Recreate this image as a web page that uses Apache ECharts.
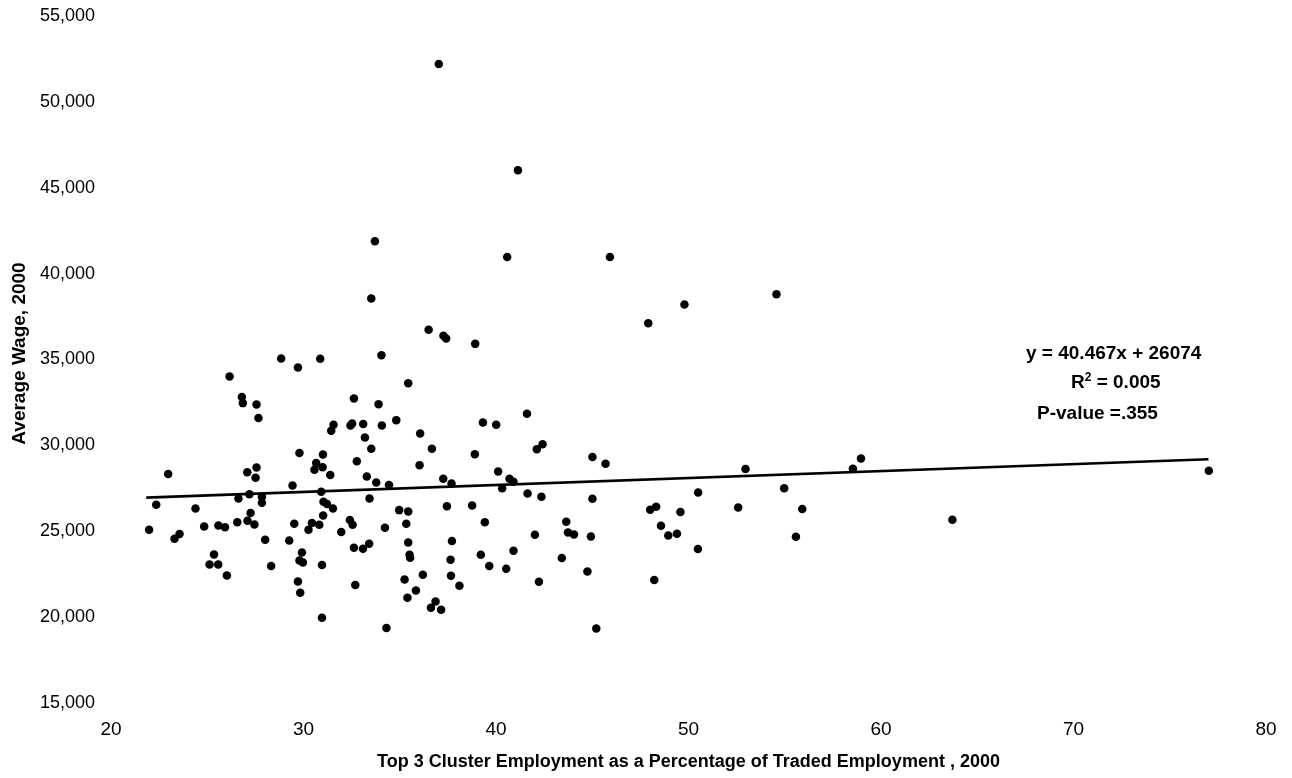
<!DOCTYPE html>
<html>
<head>
<meta charset="utf-8">
<script src="https://cdn.jsdelivr.net/npm/echarts@6/dist/echarts.min.js"></script>
<style>
html,body{margin:0;padding:0;background:#fff;}
#chart{width:1292px;height:778px;}
</style>
</head>
<body>
<div id="chart"></div>
<script>
// Top 3 cluster employment as % of traded employment, 2000
const clusterPct = [
  28.84,29.71,30.87,26.16,26.80,26.85,27.56,27.66,29.79,30.66,30.57,22.97,27.56,27.08,27.51,29.43,
  22.35,24.39,26.62,27.19,27.84,27.84,27.25,27.09,27.45,26.56,24.84,25.58,25.92,21.98,23.56,23.30,
  29.52,30.44,30.82,30.26,28.01,29.26,25.35,25.12,25.57,26.02,29.92,29.79,29.97,28.32,29.71,29.83,
  36.50,37.27,37.41,34.05,35.44,32.62,33.90,31.56,31.44,32.44,32.53,33.10,34.07,34.82,33.19,33.52,
  36.06,36.67,31.01,32.77,36.03,30.99,31.39,33.29,33.78,34.44,37.26,37.69,30.92,33.43,31.04,31.22,
  31.53,31.02,34.97,35.44,37.45,35.34,32.41,32.55,34.23,31.96,35.44,37.71,32.62,33.09,33.41,35.51,
  35.54,37.64,30.96,32.69,35.25,36.20,37.66,38.10,35.84,35.40,36.86,36.62,37.15,30.96,34.31,
  38.92,47.91,41.61,39.32,40.01,42.42,42.12,38.90,45.01,45.69,40.11,40.70,40.91,40.32,41.64,42.36,
  45.01,38.76,48.01,39.42,43.65,43.74,44.05,42.02,44.93,40.91,39.21,43.42,39.65,40.53,44.75,42.23,45.21,
  37.03,41.14,33.71,40.58,45.92,33.52,
  49.79,54.57,58.96,58.54,52.96,50.50,54.97,48.32,49.58,52.58,55.91,48.57,48.95,49.40,50.49,55.58,48.22,
  63.71,77.03
];
// Average wage, 2000
const avgWage = [
  35060,34530,35040,34010,32810,32460,32380,31600,29550,28970,28580,28340,28710,28440,28110,27660,
  26540,26330,26910,27160,27010,26660,26060,25610,25390,25530,25280,25340,25240,25090,24840,24560,
  25430,25480,25380,25090,24500,24460,23650,23070,23070,22430,23760,23300,23180,22970,22080,21420,
  36730,36380,36220,35250,33620,32730,32400,31200,30850,31160,31280,31240,31160,31470,30460,29800,
  30690,29800,29470,29080,28850,28730,28270,28190,27840,27690,28050,27780,27300,26910,26720,26580,
  26330,25920,26230,26150,26460,25430,25650,25380,25200,24950,24350,24430,24040,23980,24270,23630,
  23460,23340,23030,21870,22190,22470,22410,21830,21550,21130,20910,20550,20430,19960,19360,
  35910,37110,31840,31330,31200,30070,29780,29490,29320,28930,28480,28050,27880,27510,27200,27010,
  26890,26500,26250,25530,25550,24930,24810,24790,24700,23860,23630,23440,22970,22820,22660,22060,19340,
  52200,46020,41890,40970,40970,38550,
  38200,38800,29240,28640,28620,27260,27510,26420,26120,26380,26290,25320,24750,24850,23960,24680,22160,
  25670,28520
];
// Trend line end points
const trendX = [21.83, 77.01];
const trendY = [26960, 29190];

const xTicks = {min: 20, max: 80, interval: 10};
const yTicks = {min: 15000, max: 55000, interval: 5000};

const eqLines = ['y = 40.467x + 26074', 'R', '2', ' = 0.005', 'P-value =.355'];

const FONT = '"Liberation Sans", Arial, sans-serif';

const chart = echarts.init(document.getElementById('chart'), null, {renderer: 'canvas'});
chart.setOption({
  animation: false,
  backgroundColor: '#ffffff',
  grid: {left: 111, right: 26, top: 16, bottom: 75},
  xAxis: {
    type: 'value',
    min: xTicks.min, max: xTicks.max, interval: xTicks.interval,
    axisLine: {show: false}, axisTick: {show: false}, splitLine: {show: false},
    axisLabel: {color: '#000', fontFamily: FONT, fontSize: 19, margin: 17},
    name: 'Top 3 Cluster Employment as a Percentage of Traded Employment , 2000',
    nameLocation: 'middle', nameGap: 50,
    nameTextStyle: {color: '#000', fontFamily: FONT, fontSize: 18, fontWeight: 'bold'}
  },
  yAxis: {
    type: 'value',
    min: yTicks.min, max: yTicks.max, interval: yTicks.interval,
    axisLine: {show: false}, axisTick: {show: false}, splitLine: {show: false},
    axisLabel: {
      color: '#000', fontFamily: FONT, fontSize: 18, margin: 16,
      formatter: v => v.toLocaleString('en-US')
    },
    name: 'Average Wage, 2000',
    nameLocation: 'middle', nameGap: 80, nameRotate: 90,
    nameTextStyle: {color: '#000', fontFamily: FONT, fontSize: 19, fontWeight: 'bold', padding: [0, 0, 0, 12]}
  },
  graphic: [
    {type: 'text', left: 1026, top: 344, style: {text: eqLines[0], fill: '#000', font: 'bold 19px ' + FONT}},
    {type: 'text', left: 1071, top: 372, style: {
      text: '{b|' + eqLines[1] + '}{s|' + eqLines[2] + '}{b|' + eqLines[3] + '}',
      rich: {
        b: {fontFamily: FONT, fontSize: 19, fontWeight: 'bold', fill: '#000', color: '#000', lineHeight: 20, verticalAlign: 'bottom'},
        s: {fontFamily: FONT, fontSize: 12, fontWeight: 'bold', fill: '#000', color: '#000', lineHeight: 20, verticalAlign: 'top'}
      }
    }},
    {type: 'text', left: 1037, top: 404, style: {text: eqLines[4], fill: '#000', font: 'bold 19px ' + FONT}}
  ],
  series: [
    {
      type: 'scatter',
      data: clusterPct.map((x, i) => [x, avgWage[i]]),
      symbol: 'circle', symbolSize: 8.5,
      itemStyle: {color: '#000', opacity: 1},
      z: 3
    },
    {
      type: 'line',
      data: trendX.map((x, i) => [x, trendY[i]]),
      symbol: 'none',
      lineStyle: {color: '#000', width: 2.6},
      z: 2
    }
  ]
});
</script>
</body>
</html>
